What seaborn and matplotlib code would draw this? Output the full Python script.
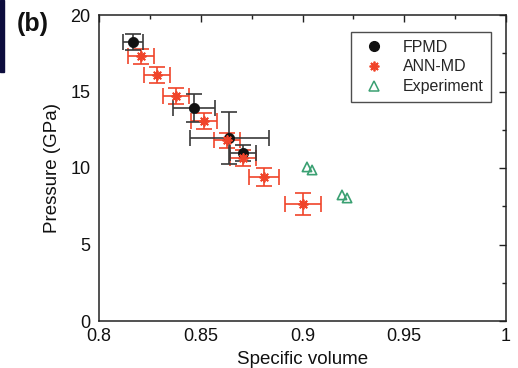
import matplotlib
matplotlib.use("Agg")
import matplotlib.pyplot as plt
import matplotlib.patches as mpatches
from matplotlib.lines import Line2D
from matplotlib.ticker import MultipleLocator
import numpy as np
import pandas as pd
import seaborn as sns

# FPMD results
fpmd_v = [0.8167, 0.8467, 0.8639, 0.8708]
fpmd_p = [18.24, 13.92, 11.96, 10.98]
fpmd_verr = [0.0047, 0.0103, 0.0194, 0.0064]
fpmd_perr = [0.5, 0.9, 1.7, 0.5]

# ANN-MD results
ann_v = [0.8206, 0.8285, 0.8378, 0.8516, 0.8629, 0.8708, 0.8811, 0.9002]
ann_p = [17.30, 16.08, 14.70, 13.07, 11.80, 10.65, 9.41, 7.65]
ann_verr = [0.0064, 0.0066, 0.0064, 0.0064, 0.0064, 0.0064, 0.0074, 0.0090]
ann_perr = [0.5, 0.5, 0.5, 0.5, 0.5, 0.5, 0.6, 0.7]

# Experimental data
exp_v = [0.9022, 0.9047, 0.9194, 0.9219]
exp_p = [10.07, 9.87, 8.24, 8.04]

x_ticks = [0.8, 0.85, 0.9, 0.95, 1.0]
x_ticklabels = ["0.8", "0.85", "0.9", "0.95", "1"]
y_ticks = [0, 5, 10, 15, 20]
y_ticklabels = ["0", "5", "10", "15", "20"]

sns.set_theme(style="white")
plt.rcParams["font.family"] = ["Liberation Sans", "DejaVu Sans"]

fig = plt.figure(figsize=(5.18, 3.68), dpi=100)
ax = fig.add_axes([99 / 518, 1 - 321 / 368, (506 - 99) / 518, (321 - 15) / 368])

black = "#111111"
bar_black = "#3a3a3a"
red = "#f0442a"
green = "#3aa072"

# error bars
ax.errorbar(ann_v, ann_p, xerr=ann_verr, yerr=ann_perr, fmt="none",
            ecolor=red, elinewidth=1.2, capsize=6, capthick=1.2, zorder=2)
ax.errorbar(fpmd_v, fpmd_p, xerr=fpmd_verr, yerr=fpmd_perr, fmt="none",
            ecolor=bar_black, elinewidth=1.2, capsize=6, capthick=1.2, zorder=3)

df_fpmd = pd.DataFrame({"v": fpmd_v, "p": fpmd_p})
df_ann = pd.DataFrame({"v": ann_v, "p": ann_p})
df_exp = pd.DataFrame({"v": exp_v, "p": exp_p})

sns.scatterplot(data=df_fpmd, x="v", y="p", ax=ax, color=black, s=55,
                marker="o", edgecolor=black, linewidth=0.5, zorder=4, legend=False)
sns.scatterplot(data=df_ann, x="v", y="p", ax=ax, color=red, s=40,
                marker=(8, 2, 0), linewidth=1.3, zorder=5, legend=False)
sns.scatterplot(data=df_exp, x="v", y="p", ax=ax, facecolor="none",
                edgecolor=green, s=45, marker="^", linewidth=1.2, zorder=4,
                legend=False)

ax.set_xlim(0.8, 1.0)
ax.set_ylim(0, 20)
ax.xaxis.set_minor_locator(MultipleLocator(0.025))
ax.yaxis.set_minor_locator(MultipleLocator(2.5))
ax.set_xticks(x_ticks)
ax.set_xticklabels(x_ticklabels)
ax.set_yticks(y_ticks)
ax.set_yticklabels(y_ticklabels)
ax.tick_params(which="both", direction="in", top=True, right=True,
               color="#222222", labelsize=13, width=1, labelcolor="#111111")
ax.tick_params(axis="x", pad=5)
ax.tick_params(axis="y", pad=6)
ax.tick_params(which="major", length=5)
ax.tick_params(which="minor", length=3)
for s in ax.spines.values():
    s.set_color("#222222")
    s.set_linewidth(1.1)

ax.set_xlabel("Specific volume", fontsize=13.5, labelpad=4, color="#111111")
ax.set_ylabel("Pressure (GPa)", fontsize=13.5, labelpad=7, color="#111111")

handles = [
    Line2D([], [], linestyle="none", marker="o", color=black, markersize=7),
    Line2D([], [], linestyle="none", marker=(8, 2, 0), color=red,
           markersize=7, markeredgewidth=1.3),
    Line2D([], [], linestyle="none", marker="^", markerfacecolor="none",
           markeredgecolor=green, markersize=6.5, markeredgewidth=1.1),
]
leg = ax.legend(handles, ["FPMD", "ANN-MD", "Experiment"], loc="upper right",
                bbox_to_anchor=(0.964, 0.946), fontsize=11.5, frameon=True,
                fancybox=False, edgecolor="#222222", handletextpad=0.9,
                borderpad=0.5, labelspacing=0.3, handlelength=1.8,
                borderaxespad=0)
leg.get_frame().set_linewidth(1.0)

fig.text(17 / 518, 1 - 24 / 368, "(b)", fontsize=18, fontweight="bold",
         va="center", ha="left", color="#111111")
fig.patches.append(mpatches.Rectangle((0, 1 - 72 / 368), 4 / 518, 72 / 368,
                                      transform=fig.transFigure,
                                      color="#0d0d3d", zorder=10))

fig.savefig("out.png", dpi=100)
